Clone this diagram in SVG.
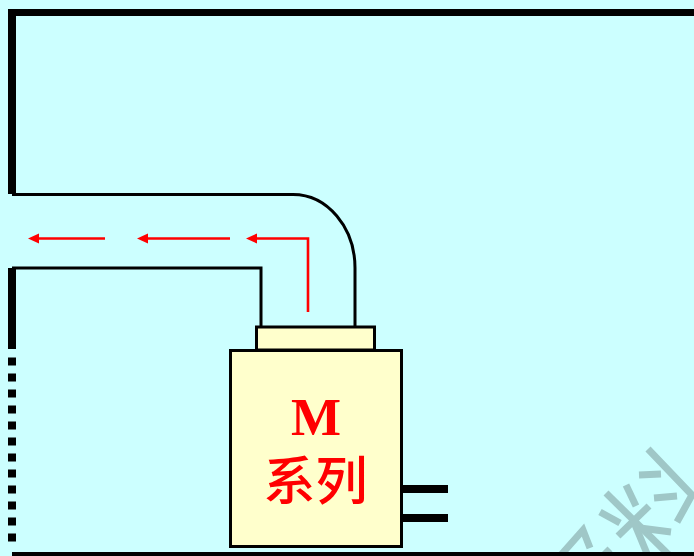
<svg xmlns="http://www.w3.org/2000/svg" width="694" height="556" viewBox="0 0 694 556">
<defs>
<marker id="ah" markerUnits="userSpaceOnUse" markerWidth="11" markerHeight="11" refX="1" refY="5.500" orient="auto" viewBox="0 0 11 11"><path d="M0 0.500L11 5.500L0 10.500Z" fill="#ff0000"/></marker>
</defs>
<style>
.wall{fill:#000}
.duct{fill:none;stroke:#000;stroke-width:3}
.box{fill:#ffffcc;stroke:#000;stroke-width:3}
.flow{fill:none;stroke:#ff0000;stroke-width:2.600;marker-end:url(#ah)}
.wm{fill:none;stroke:#9fc7c7;stroke-width:7}
.lbl{fill:#ff0000;text-anchor:middle}
</style>
<rect width="694" height="556" fill="#ccffff"/>
<g id="watermark">
<path class="wm" d="M648 449L692 495L677 522"/>
<path class="wm" d="M639 475L661 474"/>
<path class="wm" d="M654 498L677 496"/>
<path class="wm" d="M626 485L636 506"/>
<path class="wm" d="M606 493L670 556"/>
<path class="wm" d="M600 512L620 523"/>
<path class="wm" d="M649 506L618 536"/>
<path class="wm" d="M633 520L648 556"/>
<path class="wm" d="M640 528L671 532"/>
<path class="wm" d="M560 556L583 530L590 548"/>
<path class="wm" d="M603 556L610 549"/>
</g>
<g id="walls">
<rect class="wall" x="8" y="9" width="686" height="7"/>
<rect class="wall" x="8" y="9" width="8" height="185"/>
<rect class="wall" x="8" y="268" width="8" height="81"/>
<path d="M12 357.500V541.500" fill="none" stroke="#000" stroke-width="8" stroke-dasharray="8 8"/>
<rect class="wall" x="12" y="552" width="682" height="4"/>
</g>
<g id="connectors">
<path class="duct" d="M12 194.500H293A62 73.500 0 0 1 355 268V327"/>
<path class="duct" d="M12 268H261V327"/>
<rect class="wall" x="402" y="485" width="46" height="8"/>
<rect class="wall" x="402" y="514" width="46" height="8"/>
<path class="flow" d="M105 238.500H38"/>
<path class="flow" d="M230 238.500H147"/>
<path class="flow" d="M308 312V238.500H256"/>
</g>
<g id="flange"><rect class="box" x="256.500" y="327" width="118" height="23"/></g>
<g id="pump">
<rect class="box" x="230.500" y="350.500" width="171" height="196"/>
<text class="lbl" x="316" y="435" font-family="'Liberation Serif',serif" font-weight="700" font-size="53">M</text>
<text class="lbl" x="315.500" y="500" font-family="'Liberation Serif','Noto Sans CJK SC',sans-serif" font-weight="500" font-size="52">系列</text>
</g>
</svg>
